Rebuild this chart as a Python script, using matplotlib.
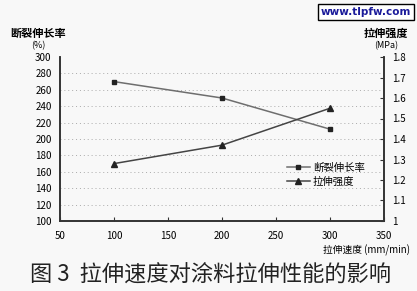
import matplotlib
matplotlib.use('Agg')
import matplotlib.pyplot as plt
from matplotlib.ticker import MultipleLocator

plt.rcParams['font.family'] = ['Noto Sans CJK SC', 'DejaVu Sans']

speed = [100, 200, 300]
elongation = [270, 250, 212]
strength = [1.28, 1.37, 1.55]

fig = plt.figure(figsize=(4.17, 2.91), dpi=100)
fig.patch.set_facecolor('#f8f8f8')
W, H = 417, 291
ax = fig.add_axes([60 / W, 1 - 221 / H, 324 / W, 164 / H])
ax.set_facecolor('#f8f8f8')
ax2 = ax.twinx()

l1, = ax.plot(speed, elongation, color='#6e6e6e', lw=1.1, marker='s', ms=3,
              mfc='#222', mec='#222', label='断裂伸长率')
l2, = ax2.plot(speed, strength, color='#444', lw=1.1, marker='^', ms=4,
               mfc='#222', mec='#222', label='拉伸强度')

ax.set_xlim(50, 350)
ax.set_ylim(100, 300)
ax2.set_ylim(1.0, 1.8)
ax.xaxis.set_major_locator(MultipleLocator(50))
ax.yaxis.set_major_locator(MultipleLocator(20))
ax2.set_yticks([1.0, 1.1, 1.2, 1.3, 1.4, 1.5, 1.6, 1.7, 1.8])
ax2.set_yticklabels(['1', '1.1', '1.2', '1.3', '1.4', '1.5', '1.6', '1.7', '1.8'])

for y in range(120, 300, 20):
    ax.axhline(y, color='#aaa', lw=0.7, ls=(0, (1, 3)), zorder=0)

for a in (ax, ax2):
    a.spines['top'].set_visible(False)
    for s in ('left', 'right', 'bottom'):
        a.spines[s].set_color('#333')
        a.spines[s].set_linewidth(1.2)

ax.tick_params(axis='x', direction='in', length=3, labelsize=7, pad=7, color='#333')
ax.tick_params(axis='y', length=0, labelsize=7, pad=6)
ax2.tick_params(axis='y', direction='in', length=3, labelsize=7, pad=6, color='#333')

ax.legend([l1, l2], ['断裂伸长率', '拉伸强度'], loc='lower right',
          bbox_to_anchor=(0.97, 0.15), frameon=False, fontsize=7.5,
          handlelength=2.2, handletextpad=0.3, labelspacing=0.4)

fig.text(38 / W, 1 - 33 / H, '断裂伸长率', ha='center', va='center', fontsize=8, fontweight='bold')
fig.text(38 / W, 1 - 46 / H, '(%)', ha='center', va='center', fontsize=6.5)
fig.text(386 / W, 1 - 33 / H, '拉伸强度', ha='center', va='center', fontsize=8, fontweight='bold')
fig.text(386 / W, 1 - 46 / H, '(MPa)', ha='center', va='center', fontsize=6.5)
fig.text(410 / W, 1 - 250 / H, '拉伸速度 (mm/min)', ha='right', va='center', fontsize=7)

fig.text(211 / W, 1 - 275 / H, '图 3  拉伸速度对涂料拉伸性能的影响', ha='center', va='center',
         fontsize=16, color='#222')

fig.text(366 / W, 1 - 12 / H, 'www.tlpfw.com', ha='center', va='center', fontsize=7.5,
         fontweight='bold', color='#1a1a9a', family='DejaVu Sans',
         bbox=dict(boxstyle='square,pad=0.3', facecolor='white', edgecolor='black', lw=1))

fig.savefig('out.png', dpi=100, facecolor=fig.get_facecolor())
